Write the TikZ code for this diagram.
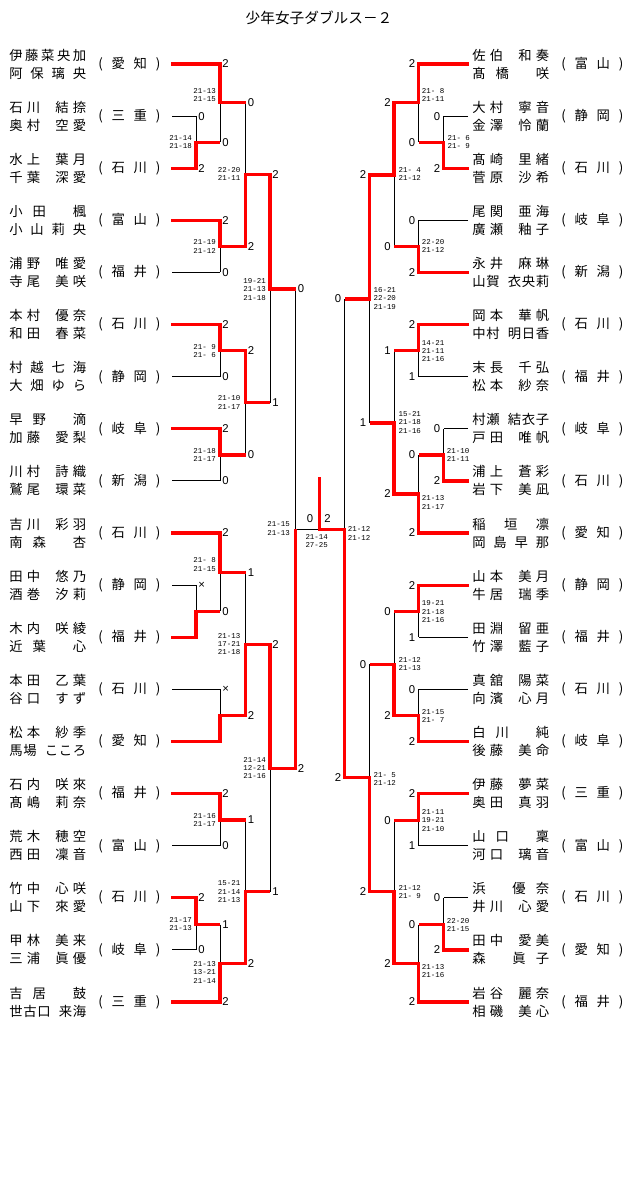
\documentclass[tikz,border=0pt]{standalone}
\usepackage{fontspec}
\newfontfamily\jp{Noto Sans CJK JP}
\newfontfamily\scmono{Liberation Mono}
\newfontfamily\scdig{Liberation Sans}
\newlength\namew \setlength\namew{57.75pt}
\newcommand\hsq{\hbox to .5em{}}
\def\distr#1{\hbox to \namew{\distrA#1\relax}}
\def\distrA#1{#1\distrB}
\def\distrB#1{\ifx\relax#1\else\hfill#1\expandafter\distrB\fi}
\newcommand\prefbox[2]{\hbox to 46.5pt{(\hfill#1\hfill#2\hfill)}}
\tikzset{
 nm/.style={inner sep=0,font=\jp\fontsize{10}{12}\selectfont},
 pf/.style={inner sep=0,font=\jp\fontsize{10}{12}\selectfont},
 dgt/.style={inner sep=0,font=\scdig\fontsize{8.5}{10}\selectfont},
 gm/.style={inner sep=0,font=\scmono\fontsize{5.6}{6.2}\selectfont},
 bl/.style={black,line width=0.75pt},
 rd/.style={red,line width=2.4pt},
}
\newcommand\teamL[5]{%
  \node[nm,anchor=west] (#1a) at (9,#2-9) {\distr{#3}};
  \node[nm,anchor=west] (#1b) at (9,#2+9) {\distr{#4}};
  \node[pf,anchor=west] (#1p) at (98,#2) {\prefbox#5};}
\newcommand\teamR[5]{%
  \node[nm,anchor=west] (#1a) at (472,#2-9) {\distr{#3}};
  \node[nm,anchor=west] (#1b) at (472,#2+9) {\distr{#4}};
  \node[pf,anchor=west] (#1p) at (561,#2) {\prefbox#5};}
\newcommand\scL[4]{\node[dgt,anchor=west] (#1) at (#2+2,#3) {#4};}
\newcommand\scR[4]{\node[dgt,anchor=east] (#1) at (#2-3,#3) {#4};}
\newcommand\gmL[4]{\node[gm,anchor=east,align=right] (#1) at (#2,#3) {#4};}
\newcommand\gmR[4]{\node[gm,anchor=west,align=left] (#1) at (#2,#3) {#4};}
\begin{document}
\begin{tikzpicture}[x=0.75pt,y=-0.75pt]
\useasboundingbox (0,0) rectangle (640,1197);
\fill[white] (0,0) rectangle (640,1197);
\node[inner sep=0,font=\jp\fontsize{11}{13}\selectfont] (title) at (319,18) {少年女子ダブルス－２};

% ---------- teams left
\teamL{L1}{64}{伊藤菜央加}{阿保璃央}{愛知}
\teamL{L2}{116.1}{石川\hsq 結捺}{奥村\hsq 空愛}{三重}
\teamL{L3}{168.2}{水上\hsq 葉月}{千葉\hsq 深愛}{石川}
\teamL{L4}{220.3}{小田\hsq 楓}{小山莉央}{富山}
\teamL{L5}{272.4}{浦野\hsq 唯愛}{寺尾\hsq 美咲}{福井}
\teamL{L6}{324.6}{本村\hsq 優奈}{和田\hsq 春菜}{石川}
\teamL{L7}{376.7}{村越七海}{大畑ゆら}{静岡}
\teamL{L8}{428.8}{早野\hsq 滴}{加藤\hsq 愛梨}{岐阜}
\teamL{L9}{480.9}{川村\hsq 詩織}{鷲尾\hsq 環菜}{新潟}
\teamL{L10}{533}{吉川\hsq 彩羽}{南森\hsq 杏}{石川}
\teamL{L11}{585.1}{田中\hsq 悠乃}{酒巻\hsq 汐莉}{静岡}
\teamL{L12}{637.2}{木内\hsq 咲綾}{近葉\hsq 心}{福井}
\teamL{L13}{689.3}{本田\hsq 乙葉}{谷口\hsq すず}{石川}
\teamL{L14}{741.4}{松本\hsq 紗季}{馬場\hsq こころ}{愛知}
\teamL{L15}{793.5}{石内\hsq 咲來}{髙嶋\hsq 莉奈}{福井}
\teamL{L16}{845.7}{荒木\hsq 穂空}{西田\hsq 凜音}{富山}
\teamL{L17}{897.8}{竹中\hsq 心咲}{山下\hsq 來愛}{石川}
\teamL{L18}{949.9}{甲林\hsq 美来}{三浦\hsq 眞優}{岐阜}
\teamL{L19}{1002}{吉居\hsq 鼓}{世古口\hsq 来海}{三重}
% ---------- teams right
\teamR{R1}{64}{佐伯\hsq 和奏}{髙橋\hsq 咲}{富山}
\teamR{R2}{116.1}{大村\hsq 寧音}{金澤\hsq 怜蘭}{静岡}
\teamR{R3}{168.2}{髙崎\hsq 里緒}{菅原\hsq 沙希}{石川}
\teamR{R4}{220.3}{尾関\hsq 亜海}{廣瀬\hsq 釉子}{岐阜}
\teamR{R5}{272.4}{永井\hsq 麻琳}{山賀\hsq 衣央莉}{新潟}
\teamR{R6}{324.6}{岡本\hsq 華帆}{中村\hsq 明日香}{石川}
\teamR{R7}{376.7}{末長\hsq 千弘}{松本\hsq 紗奈}{福井}
\teamR{R8}{428.8}{村瀬\hsq 結衣子}{戸田\hsq 唯帆}{岐阜}
\teamR{R9}{480.9}{浦上\hsq 蒼彩}{岩下\hsq 美凪}{石川}
\teamR{R10}{533}{稲垣凛}{岡島早那}{愛知}
\teamR{R11}{585.1}{山本\hsq 美月}{牛居\hsq 瑞季}{静岡}
\teamR{R12}{637.2}{田淵\hsq 留亜}{竹澤\hsq 藍子}{福井}
\teamR{R13}{689.3}{真舘\hsq 陽菜}{向濱\hsq 心月}{石川}
\teamR{R14}{741.4}{白川\hsq 純}{後藤\hsq 美命}{岐阜}
\teamR{R15}{793.5}{伊藤\hsq 夢菜}{奥田\hsq 真羽}{三重}
\teamR{R16}{845.7}{山口\hsq 稟}{河口\hsq 璃音}{富山}
\teamR{R17}{897.8}{浜\hsq 優奈}{井川\hsq 心愛}{石川}
\teamR{R18}{949.9}{田中\hsq 愛美}{森\hsq 眞子}{愛知}
\teamR{R19}{1002}{岩谷\hsq 麗奈}{相磯\hsq 美心}{福井}

% ---------- black bracket
\draw[bl]
 (172,64)--(220,64) (172,116.1)--(196,116.1) (172,168.2)--(196,168.2)
 (172,220.3)--(220,220.3) (172,272.4)--(220,272.4) (172,324.6)--(220,324.6)
 (172,376.7)--(220,376.7) (172,428.8)--(220,428.8) (172,480.9)--(220,480.9)
 (172,533)--(220,533) (172,585.1)--(196,585.1) (172,637.2)--(196,637.2)
 (172,689.3)--(220,689.3) (172,741.4)--(220,741.4) (172,793.5)--(220,793.5)
 (172,845.7)--(220,845.7) (172,897.8)--(196,897.8) (172,949.9)--(196,949.9)
 (172,1002)--(220,1002)
 (196,116.1)--(196,168.2) (196,142.2)--(220,142.2)
 (220,64)--(220,142.2) (220,102.7)--(245.5,102.7)
 (220,220.3)--(220,272.4) (220,246.4)--(245.5,246.4)
 (245.5,102.7)--(245.5,246.4) (245.5,174.5)--(270,174.5)
 (220,324.6)--(220,376.7) (220,350.6)--(245.5,350.6)
 (220,428.8)--(220,480.9) (220,454.9)--(245.5,454.9)
 (245.5,350.6)--(245.5,454.9) (245.5,402.7)--(270,402.7)
 (270,174.5)--(270,402.7) (270,289)--(295.5,289)
 (196,585.1)--(196,637.2) (196,611.2)--(220,611.2)
 (220,533)--(220,611.2) (220,572.2)--(245.5,572.2)
 (220,689.3)--(220,741.4) (220,715.4)--(245.5,715.4)
 (245.5,572.2)--(245.5,715.4) (245.5,644.5)--(270,644.5)
 (220,793.5)--(220,845.7) (220,820)--(245.5,820)
 (196,897.8)--(196,949.9) (196,924.5)--(220,924.5)
 (220,924.5)--(220,1002) (220,963.5)--(245.5,963.5)
 (245.5,820)--(245.5,963.5) (245.5,891.7)--(270,891.7)
 (270,644.5)--(270,891.7) (270,768.5)--(295.5,768.5)
 (295.5,289)--(295.5,768.5) (295.5,529.3)--(319.5,529.3)
 (468,64)--(418.5,64) (468,116.1)--(443.5,116.1) (468,168.2)--(443.5,168.2)
 (468,220.3)--(418.5,220.3) (468,272.4)--(418.5,272.4) (468,324.6)--(418.5,324.6)
 (468,376.7)--(418.5,376.7) (468,428.8)--(443.5,428.8) (468,480.9)--(443.5,480.9)
 (468,533)--(418.5,533) (468,585.1)--(418.5,585.1) (468,637.2)--(418.5,637.2)
 (468,689.3)--(418.5,689.3) (468,741.4)--(418.5,741.4) (468,793.5)--(418.5,793.5)
 (468,845.7)--(418.5,845.7) (468,897.8)--(443.5,897.8) (468,949.9)--(443.5,949.9)
 (468,1002)--(418.5,1002)
 (443.5,116.1)--(443.5,168.2) (443.5,142.2)--(418.5,142.2)
 (418.5,64)--(418.5,142.2) (418.5,102.7)--(394,102.7)
 (418.5,220.3)--(418.5,272.4) (418.5,246.8)--(394,246.8)
 (394,102.7)--(394,246.8) (394,175)--(369.5,175)
 (418.5,324.6)--(418.5,376.7) (418.5,350.8)--(394,350.8)
 (443.5,428.8)--(443.5,480.9) (443.5,455)--(418.5,455)
 (418.5,455)--(418.5,533) (418.5,494)--(394,494)
 (394,350.8)--(394,494) (394,423)--(369.5,423)
 (369.5,175)--(369.5,423) (369.5,299)--(344.5,299)
 (418.5,585.1)--(418.5,637.2) (418.5,611.5)--(394,611.5)
 (418.5,689.3)--(418.5,741.4) (418.5,715.6)--(394,715.6)
 (394,611.5)--(394,715.6) (394,664.3)--(369.5,664.3)
 (418.5,793.5)--(418.5,845.7) (418.5,820.5)--(394,820.5)
 (443.5,897.8)--(443.5,949.9) (443.5,924.5)--(418.5,924.5)
 (418.5,924.5)--(418.5,1002) (418.5,963.3)--(394,963.3)
 (394,820.5)--(394,963.3) (394,891.7)--(369.5,891.7)
 (369.5,664.3)--(369.5,891.7) (369.5,777.7)--(344.5,777.7)
 (344.5,299)--(344.5,777.7) (344.5,529.3)--(319.5,529.3);

% ---------- red winner paths
\draw[rd] (171,64)--(220,64)--(220,102.7)--(245.5,102.7);
\draw[rd] (171,168.2)--(196,168.2)--(196,142.2)--(220,142.2);
\draw[rd] (171,220.3)--(220,220.3)--(220,246.4)--(245.5,246.4)--(245.5,174.5)--(270,174.5)--(270,289)--(295.5,289);
\draw[rd] (171,324.6)--(220,324.6)--(220,350.6)--(245.5,350.6)--(245.5,402.7)--(270,402.7);
\draw[rd] (171,428.8)--(220,428.8)--(220,454.9)--(245.5,454.9);
\draw[rd] (171,533)--(220,533)--(220,572.2)--(245.5,572.2);
\draw[rd] (171,637.2)--(196,637.2)--(196,611.2)--(220,611.2);
\draw[rd] (171,741.4)--(220,741.4)--(220,715.4)--(245.5,715.4)--(245.5,644.5)--(270,644.5)--(270,768.5)--(295.5,768.5)--(295.5,529.3);
\draw[rd] (171,793.5)--(220,793.5)--(220,820)--(245.5,820);
\draw[rd] (171,897.8)--(196,897.8)--(196,924.5)--(220,924.5);
\draw[rd] (171,1002)--(220,1002)--(220,963.5)--(245.5,963.5)--(245.5,891.7)--(270,891.7);
\draw[rd] (468.5,64)--(418.5,64)--(418.5,102.7)--(394,102.7)--(394,175)--(369.5,175)--(369.5,299)--(344.5,299);
\draw[rd] (468.5,168.2)--(443.5,168.2)--(443.5,142.2)--(418.5,142.2);
\draw[rd] (468.5,272.4)--(418.5,272.4)--(418.5,246.8)--(394,246.8);
\draw[rd] (468.5,324.6)--(418.5,324.6)--(418.5,350.8)--(394,350.8);
\draw[rd] (468.5,480.9)--(443.5,480.9)--(443.5,455)--(418.5,455);
\draw[rd] (468.5,533)--(418.5,533)--(418.5,494)--(394,494)--(394,423)--(369.5,423);
\draw[rd] (468.5,585.1)--(418.5,585.1)--(418.5,611.5)--(394,611.5);
\draw[rd] (468.5,741.4)--(418.5,741.4)--(418.5,715.6)--(394,715.6)--(394,664.3)--(369.5,664.3);
\draw[rd] (468.5,793.5)--(418.5,793.5)--(418.5,820.5)--(394,820.5);
\draw[rd] (468.5,949.9)--(443.5,949.9)--(443.5,924.5)--(418.5,924.5);
\draw[rd] (468.5,1002)--(418.5,1002)--(418.5,963.3)--(394,963.3)--(394,891.7)--(369.5,891.7)--(369.5,777.7)--(344.5,777.7)--(344.5,529.3)--(319.5,529.3)--(319.5,476.7);

% ---------- set scores left
\scL{sa1}{196}{116.1}{0} \scL{sa2}{196}{168.2}{2}
\scL{sb1}{220}{64}{2} \scL{sb2}{220}{142.2}{0}
\scL{sc1}{220}{220.3}{2} \scL{sc2}{220}{272.4}{0}
\scL{sd1}{245.5}{102.7}{0} \scL{sd2}{245.5}{246.4}{2}
\scL{se1}{220}{324.6}{2} \scL{se2}{220}{376.7}{0}
\scL{sf1}{220}{428.8}{2} \scL{sf2}{220}{480.9}{0}
\scL{sg1}{245.5}{350.6}{2} \scL{sg2}{245.5}{454.9}{0}
\scL{sh1}{270}{174.5}{2} \scL{sh2}{270}{402.7}{1}
\scL{sr1}{295.5}{289}{0} \scL{sr2}{295.5}{768.5}{2}
\scL{si1}{196}{585.1}{×}
\scL{sj1}{220}{533}{2} \scL{sj2}{220}{611.2}{0}
\scL{sk1}{220}{689.3}{×}
\scL{sl1}{245.5}{572.2}{1} \scL{sl2}{245.5}{715.4}{2}
\scL{sm1}{220}{793.5}{2} \scL{sm2}{220}{845.7}{0}
\scL{sn1}{196}{897.8}{2} \scL{sn2}{196}{949.9}{0}
\scL{so1}{220}{924.5}{1} \scL{so2}{220}{1002}{2}
\scL{sp1}{245.5}{820}{1} \scL{sp2}{245.5}{963.5}{2}
\scL{sq1}{270}{644.5}{2} \scL{sq2}{270}{891.7}{1}
% ---------- set scores right
\scR{ta1}{443.5}{116.1}{0} \scR{ta2}{443.5}{168.2}{2}
\scR{tb1}{418.5}{64}{2} \scR{tb2}{418.5}{142.2}{0}
\scR{tc1}{418.5}{220.3}{0} \scR{tc2}{418.5}{272.4}{2}
\scR{td1}{394}{102.7}{2} \scR{td2}{394}{246.8}{0}
\scR{te1}{418.5}{324.6}{2} \scR{te2}{418.5}{376.7}{1}
\scR{tf1}{443.5}{428.8}{0} \scR{tf2}{443.5}{480.9}{2}
\scR{tg1}{418.5}{455}{0} \scR{tg2}{418.5}{533}{2}
\scR{th1}{394}{350.8}{1} \scR{th2}{394}{494}{2}
\scR{ti1}{369.5}{175}{2} \scR{ti2}{369.5}{423}{1}
\scR{ts1}{344.5}{299}{0} \scR{ts2}{344.5}{777.7}{2}
\scR{tj1}{418.5}{585.1}{2} \scR{tj2}{418.5}{637.2}{1}
\scR{tk1}{418.5}{689.3}{0} \scR{tk2}{418.5}{741.4}{2}
\scR{tl1}{394}{611.5}{0} \scR{tl2}{394}{715.6}{2}
\scR{to1}{418.5}{793.5}{2} \scR{to2}{418.5}{845.7}{1}
\scR{tn1}{443.5}{897.8}{0} \scR{tn2}{443.5}{949.9}{2}
\scR{tp1}{418.5}{924.5}{0} \scR{tp2}{418.5}{1002}{2}
\scR{tq1}{394}{820.5}{0} \scR{tq2}{394}{963.3}{2}
\scR{tm1}{369.5}{664.3}{0} \scR{tm2}{369.5}{891.7}{2}
\node[dgt] (f0) at (310,519) {0};
\node[dgt] (f2) at (327.5,519) {2};

% ---------- game scores left
\gmL{ga}{192}{142.3}{21-14\\21-18}
\gmL{gb}{216}{95}{21-13\\21-15}
\gmL{gc}{216}{246.5}{21-19\\21-12}
\gmL{gd}{240.5}{174}{22-20\\21-11}
\gmL{ge}{216}{351}{21- 9\\21- 6}
\gmL{gf}{216}{454.7}{21-18\\21-17}
\gmL{gg}{240.5}{402.5}{21-10\\21-17}
\gmL{gh}{266}{289.3}{19-21\\21-13\\21-18}
\gmL{gj}{216}{564.5}{21- 8\\21-15}
\gmL{gl}{240.5}{644}{21-13\\17-21\\21-18}
\gmL{gm}{216}{820}{21-16\\21-17}
\gmL{gn}{192}{924}{21-17\\21-13}
\gmL{go}{216}{972.3}{21-13\\13-21\\21-14}
\gmL{gp}{240.5}{891.7}{15-21\\21-14\\21-13}
\gmL{gq}{266}{768}{21-14\\12-21\\21-16}
\gmL{gr}{290}{528.5}{21-15\\21-13}
\node[gm,align=center] (gfin) at (316.7,541) {21-14\\27-25};
% ---------- game scores right
\gmR{ha}{447.3}{142}{21- 6\\21- 9}
\gmR{hb}{421.7}{95}{21- 8\\21-11}
\gmR{hc}{421.7}{246}{22-20\\21-12}
\gmR{hd}{398.3}{174}{21- 4\\21-12}
\gmR{he}{421.7}{351}{14-21\\21-11\\21-16}
\gmR{hf}{446.7}{455}{21-10\\21-11}
\gmR{hg}{421.7}{502.5}{21-13\\21-17}
\gmR{hh}{398.3}{422.5}{15-21\\21-18\\21-16}
\gmR{hi}{373.3}{298.5}{16-21\\22-20\\21-19}
\gmR{hs}{347.7}{533.5}{21-12\\21-12}
\gmR{hj}{421.7}{611.7}{19-21\\21-18\\21-16}
\gmR{hk}{421.7}{716}{21-15\\21- 7}
\gmR{hl}{398.3}{663.8}{21-12\\21-13}
\gmR{ho}{421.7}{820.5}{21-11\\19-21\\21-10}
\gmR{hn}{446.7}{925}{22-20\\21-15}
\gmR{hp}{421.7}{971}{21-13\\21-16}
\gmR{hq}{398.3}{892}{21-12\\21- 9}
\gmR{hm}{373.3}{778.7}{21- 5\\21-12}
\end{tikzpicture}
\end{document}
